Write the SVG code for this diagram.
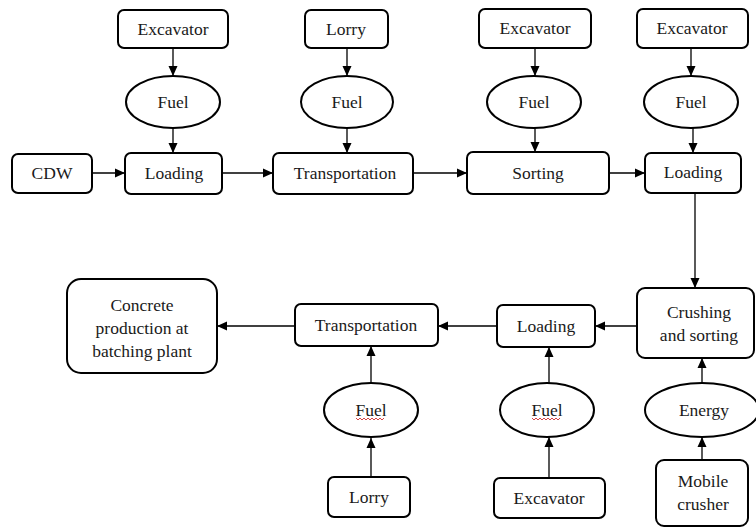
<svg xmlns="http://www.w3.org/2000/svg" width="756" height="528" viewBox="0 0 756 528">
<defs>
<marker id="ah" viewBox="0 0 10 10" refX="10" refY="5" markerWidth="10" markerHeight="10" markerUnits="userSpaceOnUse" orient="auto">
<path d="M0,0.5 L10,5 L0,9.5 Z" fill="#000"/>
</marker>
<style>
.n rect, .n ellipse { fill: #fff; stroke: #000; stroke-width: 2; }
text { font-family: "Liberation Serif", "Times New Roman", serif; font-size: 17.5px; fill: #1a1a1a; text-anchor: middle; }
.c line { stroke: #000; stroke-width: 1.3; fill: none; marker-end: url(#ah); }
.sq { stroke: #d03030; stroke-width: 0.9; fill: none; }
</style>
</defs>
<rect width="756" height="528" fill="#fff"/>
<g class="c" id="connectors">
<line x1="173" y1="48" x2="173" y2="76"/>
<line x1="173" y1="128" x2="173" y2="153"/>
<line x1="92" y1="173" x2="125" y2="173"/>
<line x1="347" y1="48" x2="347" y2="76"/>
<line x1="347" y1="128" x2="347" y2="153"/>
<line x1="222" y1="173" x2="273" y2="173"/>
<line x1="535" y1="48" x2="535" y2="76"/>
<line x1="535" y1="128" x2="535" y2="152"/>
<line x1="413" y1="173" x2="467" y2="173"/>
<line x1="691" y1="48" x2="691" y2="76"/>
<line x1="693" y1="128" x2="693" y2="153"/>
<line x1="609" y1="173" x2="645" y2="173"/>
<line x1="695" y1="193" x2="695" y2="288"/>
<line x1="637" y1="326" x2="595" y2="326"/>
<line x1="497" y1="326" x2="438" y2="326"/>
<line x1="295" y1="326" x2="217" y2="326"/>
<line x1="371" y1="477" x2="371" y2="438"/>
<line x1="371" y1="383" x2="371" y2="346"/>
<line x1="549" y1="478" x2="549" y2="437"/>
<line x1="549" y1="383" x2="549" y2="347"/>
<line x1="702" y1="460" x2="702" y2="437"/>
<line x1="702" y1="383" x2="702" y2="358"/>
</g>
<g class="n" id="nodes">
<g id="exc1"><rect x="118" y="10" width="110" height="38" rx="6"/><text x="173" y="35">Excavator</text></g>
<g id="fuel1"><ellipse cx="173" cy="102" rx="47" ry="26"/><text x="173" y="108">Fuel</text></g>
<g id="cdw"><rect x="12" y="154" width="80" height="39" rx="6"/><text x="52" y="179">CDW</text></g>
<g id="load1"><rect x="125" y="153" width="97" height="41" rx="6"/><text x="174" y="179">Loading</text></g>
<g id="lorry1"><rect x="305" y="10" width="83" height="38" rx="6"/><text x="346" y="35">Lorry</text></g>
<g id="fuel2"><ellipse cx="347" cy="102" rx="46" ry="26"/><text x="347" y="108">Fuel</text></g>
<g id="trans1"><rect x="273" y="153" width="140" height="41" rx="6"/><text x="345" y="179">Transportation</text></g>
<g id="exc3"><rect x="479" y="9" width="112" height="39" rx="6"/><text x="535" y="34">Excavator</text></g>
<g id="fuel3"><ellipse cx="534" cy="102" rx="47" ry="26"/><text x="534" y="108">Fuel</text></g>
<g id="sorting"><rect x="467" y="152" width="142" height="42" rx="6"/><text x="538" y="179">Sorting</text></g>
<g id="exc4"><rect x="637" y="9" width="111" height="39" rx="6"/><text x="692" y="34">Excavator</text></g>
<g id="fuel4"><ellipse cx="691" cy="102" rx="47" ry="26"/><text x="691" y="108">Fuel</text></g>
<g id="load2"><rect x="645" y="153" width="96" height="40" rx="6"/><text x="693" y="178">Loading</text></g>
<g id="crush"><rect x="637" y="288" width="117" height="70" rx="8"/><text x="699" y="318">Crushing</text><text x="699" y="341">and sorting</text></g>
<g id="load3"><rect x="497" y="305" width="98" height="42" rx="6"/><text x="546" y="332">Loading</text></g>
<g id="trans2"><rect x="295" y="304" width="143" height="42" rx="6"/><text x="366" y="331">Transportation</text></g>
<g id="concrete"><rect x="67" y="279" width="150" height="94" rx="14"/><text x="142" y="311">Concrete</text><text x="142" y="334">production at</text><text x="142" y="357">batching plant</text></g>
<g id="fuel5"><ellipse cx="371" cy="410" rx="47" ry="27"/><text x="371" y="416">Fuel</text><path class="sq" d="M356,418 l2,2 l2,-2 l2,2 l2,-2 l2,2 l2,-2 l2,2 l2,-2 l2,2 l2,-2 l2,2 l2,-2 l2,2 l2,-2"/></g>
<g id="lorry2"><rect x="328" y="477" width="82" height="40" rx="6"/><text x="369" y="503">Lorry</text></g>
<g id="fuel6"><ellipse cx="547" cy="410" rx="47" ry="27"/><text x="547" y="416">Fuel</text><path class="sq" d="M532,418 l2,2 l2,-2 l2,2 l2,-2 l2,2 l2,-2 l2,2 l2,-2 l2,2 l2,-2 l2,2 l2,-2 l2,2 l2,-2"/></g>
<g id="exc5"><rect x="494" y="478" width="111" height="40" rx="6"/><text x="549" y="504">Excavator</text></g>
<g id="energy"><ellipse cx="702" cy="410" rx="57" ry="27"/><text x="704" y="416">Energy</text></g>
<g id="mobile"><rect x="656" y="460" width="92" height="66" rx="8"/><text x="703" y="487">Mobile</text><text x="703" y="510">crusher</text></g>
</g>
</svg>
